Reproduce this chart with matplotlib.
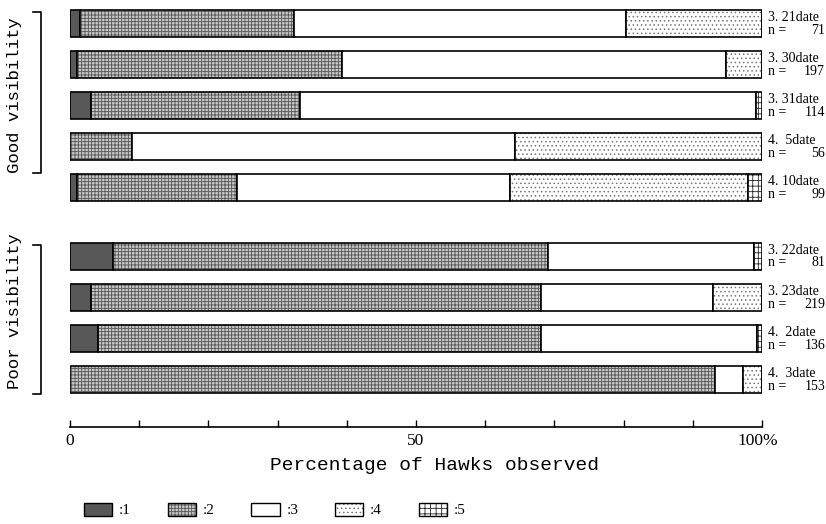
import matplotlib
matplotlib.use("Agg")
import matplotlib.pyplot as plt
from matplotlib.patches import Patch
from matplotlib.legend_handler import HandlerTuple
from matplotlib.lines import Line2D
import matplotlib.transforms as mtransforms
import numpy as np

# ---------------- data ----------------
dates = ["3.21", "3.30", "3.31", "4. 5", "4.10", "3.22", "3.23", "4. 2", "4. 3"]
counts = [71, 197, 114, 56, 99, 81, 219, 136, 153]
groups = ["Good visibility"] * 5 + ["Poor visibility"] * 4
cat1 = [1.4, 1.0, 3.0, 0.0, 1.0, 6.2, 3.0, 4.0, 0.0]
cat2 = [31.0, 38.3, 30.2, 8.9, 23.2, 62.9, 65.1, 64.0, 93.2]
cat3 = [47.9, 55.5, 65.9, 55.4, 39.4, 29.7, 24.8, 31.3, 4.0]
cat4 = [19.7, 5.2, 0.0, 35.7, 34.4, 0.0, 7.1, 0.0, 2.8]
cat5 = [0.0, 0.0, 0.9, 0.0, 2.0, 1.2, 0.0, 0.7, 0.0]
legend_labels = [":1", ":2", ":3", ":4", ":5"]
xticks_major = [0, 50, 100]
xtick_labels = ["0", "50", "100%"]
xlabel = "Percentage of Hawks observed"

# ---------------- style ----------------
plt.rcParams["hatch.linewidth"] = 0.6
serif = ["Liberation Serif", "DejaVu Serif"]
mono = ["Liberation Mono", "DejaVu Sans Mono"]

seg_styles = [
    dict(face="#585858", hatch=None, hcol="#585858"),
    dict(face="#c8c8c8", hatch="+++++", hcol="#555555"),
    dict(face="white", hatch=None, hcol="white"),
    dict(face="white", hatch="....", hcol="#777777"),
    dict(face="white", hatch="+++", hcol="#222222"),
]

W, H = 826, 524
fig = plt.figure(figsize=(W / 100, H / 100), dpi=100)
ax = fig.add_axes([70 / W, 1 - 427 / H, 692 / W, 427 / H])

# row positions (good group, gap, poor group)
ypos = np.array([0, 1, 2, 3, 4, 5.67, 6.67, 7.67, 8.67])
bar_h = 0.66

segs = np.array([cat1, cat2, cat3, cat4, cat5])
left = np.zeros(len(dates))
for k, st in enumerate(seg_styles):
    vals = segs[k]
    ax.barh(ypos, vals, left=left, height=bar_h, color=st["face"],
            hatch=st["hatch"], edgecolor=st["hcol"], linewidth=0)
    ax.barh(ypos, vals, left=left, height=bar_h, fill=False,
            edgecolor="black", linewidth=1.2)
    left = left + vals

ax.set_xlim(0, 100)
ax.set_ylim(9.82, -0.572)
for s in ["top", "left", "right"]:
    ax.spines[s].set_visible(False)
ax.spines["bottom"].set_linewidth(1.2)
ax.set_yticks([])
ax.set_xticks(xticks_major)
ax.set_xticklabels(xtick_labels, fontfamily=serif, fontsize=12.5)
ax.set_xticks(np.arange(0, 101, 10), minor=True)
ax.tick_params(axis="x", which="both", direction="in", length=5, width=1, pad=4)
# shift "100%" so that "100" sits under the tick
lab = ax.get_xticklabels()[-1]
lab.set_horizontalalignment("left")
lab.set_transform(lab.get_transform() + mtransforms.ScaledTranslation(-25 / 100, 0, fig.dpi_scale_trans))

# right-hand labels
off_up = mtransforms.ScaledTranslation(0, 6 / 100, fig.dpi_scale_trans)
off_dn = mtransforms.ScaledTranslation(0, -6.5 / 100, fig.dpi_scale_trans)
blend = mtransforms.blended_transform_factory(fig.transFigure, ax.transData)
for y, d, n in zip(ypos, dates, counts):
    ax.text(768 / W, y, d.replace(".", ". ") + "date", transform=blend + off_up,
            ha="left", va="center", fontsize=10, fontfamily=serif)
    ax.text(768 / W, y, "n =", transform=blend + off_dn,
            ha="left", va="center", fontsize=10, fontfamily=serif)
    ax.text(825 / W, y, str(n), transform=blend + off_dn,
            ha="right", va="center", fontsize=10, fontfamily=serif)

# x label
fig.text(435 / W, 1 - 466 / H, xlabel, ha="center", va="center",
         fontsize=14, fontfamily=mono)

# group labels with brackets
def bracket(y0, y1, label, ylab):
    xs = [33 / W, 41 / W, 41 / W, 33 / W]
    ys = [1 - y0 / H, 1 - y0 / H, 1 - y1 / H, 1 - y1 / H]
    fig.add_artist(Line2D(xs, ys, color="black", linewidth=1.2, transform=fig.transFigure))
    fig.text(15 / W, 1 - ylab / H, label, rotation=90, ha="center", va="center",
             fontsize=12.5, fontfamily=mono)

bracket(12, 173, groups[0], 95)
bracket(245, 394, groups[-1], 311)

# legend
handles = []
for st in seg_styles:
    h_fill = Patch(facecolor=st["face"], hatch=st["hatch"], edgecolor=st["hcol"], linewidth=0)
    h_edge = Patch(fill=False, edgecolor="black", linewidth=1.0)
    handles.append((h_fill, h_edge))
leg = fig.legend(handles, legend_labels, loc="center left",
                 bbox_to_anchor=(84 / W, 1 - 510 / H), ncol=5, frameon=False,
                 handler_map={tuple: HandlerTuple(ndivide=1, pad=0)},
                 prop={"family": serif, "size": 11},
                 handlelength=1.85, handleheight=0.95, handletextpad=0.45,
                 columnspacing=2.4, borderpad=0, borderaxespad=0)

fig.savefig("out.png", dpi=100)
